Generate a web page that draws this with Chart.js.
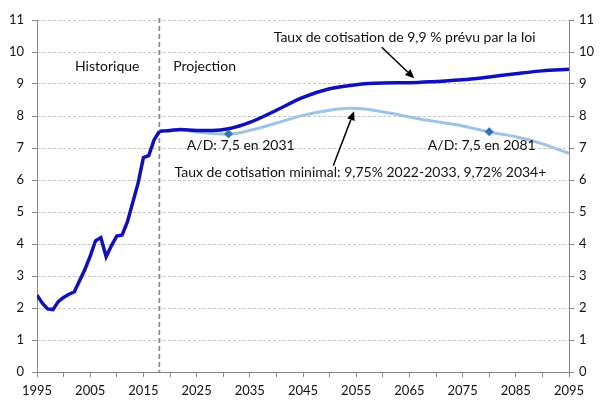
<!DOCTYPE html>
<html><head><meta charset="utf-8">
<script src="https://cdn.jsdelivr.net/npm/chart.js@4/dist/chart.umd.min.js"></script>
<style>html,body{margin:0;padding:0;background:#fff;}#wrap{width:611px;height:413px;}</style>
</head><body><div id="wrap"><canvas id="c" width="611" height="413"></canvas></div>
<script>
// ---- data ----
const histYears  = [1995,1996,1997,1998,1999,2000,2001,2002,2003,2004,2005,2006,2007,2008,2009,2010,2011,2012,2013,2014,2015,2016,2017,2018];
const histValues = [2.40,2.15,1.97,1.95,2.20,2.33,2.43,2.50,2.85,3.20,3.62,4.10,4.20,3.60,3.95,4.25,4.28,4.70,5.30,5.90,6.70,6.76,7.25,7.52];

const projYears   = [2018,2020,2022,2025,2028,2031,2035,2040,2045,2050,2055,2060,2065,2070,2075,2080,2085,2090,2095];
const legalValues = [7.52,7.55,7.58,7.55,7.55,7.60,7.80,8.18,8.58,8.85,8.98,9.03,9.04,9.08,9.13,9.22,9.32,9.41,9.46];

const minYears  = [2018,2020,2022,2025,2028,2031,2035,2040,2045,2050,2054,2057,2061,2066,2071,2075,2080,2085,2090,2095];
const minValues = [7.52,7.53,7.56,7.50,7.45,7.43,7.55,7.78,8.02,8.18,8.24,8.21,8.10,7.94,7.80,7.69,7.50,7.35,7.13,6.83];

const adYears  = [2031,2080];
const adValues = [7.44,7.51];

const dividerYear = 2018;
const xTickLabels = [1995,2005,2015,2025,2035,2045,2055,2065,2075,2085,2095];
const yTicks = [0,1,2,3,4,5,6,7,8,9,10,11];

const labels = {
  hist: 'Historique',
  proj: 'Projection',
  legal: 'Taux de cotisation de 9,9 % prévu par la loi',
  min: 'Taux de cotisation minimal: 9,75% 2022-2033, 9,72% 2034+',
  ad1: 'A/D: 7,5 en 2031',
  ad2: 'A/D: 7,5 en 2081'
};

const toPts = (xs, ys) => xs.map((x, i) => ({x, y: ys[i]}));

// annotation placement (data units)
const texts = [
  {t: labels.hist,  x: 2008.2, y: 9.56},
  {t: labels.proj,  x: 2026.5, y: 9.56},
  {t: labels.legal, x: 2064.1, y: 10.46},
  {t: labels.ad1,   x: 2033.3, y: 7.09},
  {t: labels.ad2,   x: 2078.6, y: 7.09},
  {t: labels.min,   x: 2055.8, y: 6.25}
];
const arrows = [
  {x1: 2059.8, y1: 10.15, x2: 2065.9, y2: 9.18},
  {x1: 2050.7, y1: 6.45,  x2: 2054.6, y2: 8.15}
];

const FONT = 'Lato, "Open Sans", sans-serif';

const overlay = {
  id: 'overlay',
  beforeDatasetsDraw(chart) {
    const {ctx, chartArea, scales} = chart;
    const x = scales.x.getPixelForValue(dividerYear);
    ctx.save();
    ctx.strokeStyle = '#8a8a8a';
    ctx.lineWidth = 1.75;
    ctx.setLineDash([5, 3]);
    ctx.beginPath();
    ctx.moveTo(x, chartArea.top - 2);
    ctx.lineTo(x, chartArea.bottom);
    ctx.stroke();
    ctx.restore();
  },
  afterDatasetsDraw(chart) {
    const {ctx, scales} = chart;
    const X = v => scales.x.getPixelForValue(v), Y = v => scales.y.getPixelForValue(v);
    ctx.save();
    ctx.fillStyle = '#111';
    ctx.font = '14px ' + FONT;
    ctx.textAlign = 'center';
    ctx.textBaseline = 'middle';
    texts.forEach(a => ctx.fillText(a.t, X(a.x), Y(a.y)));
    ctx.strokeStyle = '#000';
    ctx.fillStyle = '#000';
    ctx.lineWidth = 1.5;
    arrows.forEach(a => {
      const x1 = X(a.x1), y1 = Y(a.y1), x2 = X(a.x2), y2 = Y(a.y2);
      const ang = Math.atan2(y2 - y1, x2 - x1);
      const L = 9, W = 4;
      const bx = x2 - L * Math.cos(ang), by = y2 - L * Math.sin(ang);
      ctx.beginPath(); ctx.moveTo(x1, y1); ctx.lineTo(bx, by); ctx.stroke();
      ctx.beginPath();
      ctx.moveTo(x2, y2);
      ctx.lineTo(bx + W * Math.sin(ang), by - W * Math.cos(ang));
      ctx.lineTo(bx - W * Math.sin(ang), by + W * Math.cos(ang));
      ctx.closePath(); ctx.fill();
    });
    ctx.restore();
  }
};

const tickFont = {family: FONT, size: 13};

new Chart(document.getElementById('c'), {
  type: 'line',
  data: {
    datasets: [
      {data: toPts(minYears, minValues), borderColor: '#9dc3e6', borderWidth: 3, pointRadius: 0, cubicInterpolationMode: 'monotone', order: 3},
      {data: toPts(projYears, legalValues), borderColor: '#1010bb', borderWidth: 3.5, pointRadius: 0, cubicInterpolationMode: 'monotone', order: 2},
      {data: toPts(histYears, histValues), borderColor: '#1010bb', borderWidth: 3.5, pointRadius: 0, tension: 0, order: 2},
      {data: toPts(adYears, adValues), showLine: false, pointStyle: 'rectRot', pointRadius: 4, pointBackgroundColor: '#2e75b6', pointBorderColor: '#2e75b6', order: 1}
    ]
  },
  options: {
    responsive: false,
    animation: false,
    events: [],
    layout: {padding: {top: 20, left: 0, right: 0, bottom: 0}},
    plugins: {legend: {display: false}, tooltip: {enabled: false}},
    scales: {
      x: {
        type: 'linear', min: 1995, max: 2095,
        afterFit(s) { s.height = 41; },
        afterBuildTicks(s) { const t = []; for (let v = 1995; v <= 2095; v += 5) t.push({value: v}); s.ticks = t; },
        ticks: {
          autoSkip: false, maxRotation: 0, padding: 6, color: '#111', font: tickFont,
          callback: v => xTickLabels.includes(v) ? String(v) : ''
        },
        grid: {drawOnChartArea: false, tickLength: 5, tickColor: '#868686', tickWidth: 1},
        border: {color: '#868686', width: 1}
      },
      y: {
        position: 'left', min: 0, max: 11,
        afterFit(s) { s.width = 37; },
        afterBuildTicks(s) { s.ticks = yTicks.map(v => ({value: v})); },
        ticks: {padding: 8, color: '#111', font: tickFont},
        grid: {color: '#c4c4c4', lineWidth: 1, tickLength: 5, tickColor: '#868686', tickBorderDash: []},
        border: {color: '#868686', width: 1, dash: [3, 2]}
      },
      y2: {
        position: 'right', min: 0, max: 11,
        afterFit(s) { s.width = 42; },
        afterBuildTicks(s) { s.ticks = yTicks.map(v => ({value: v})); },
        ticks: {padding: 5, color: '#111', font: tickFont},
        grid: {drawOnChartArea: false, tickLength: 5, tickColor: '#868686'},
        border: {color: '#868686', width: 1}
      }
    }
  },
  plugins: [overlay]
});
</script>
</body></html>
